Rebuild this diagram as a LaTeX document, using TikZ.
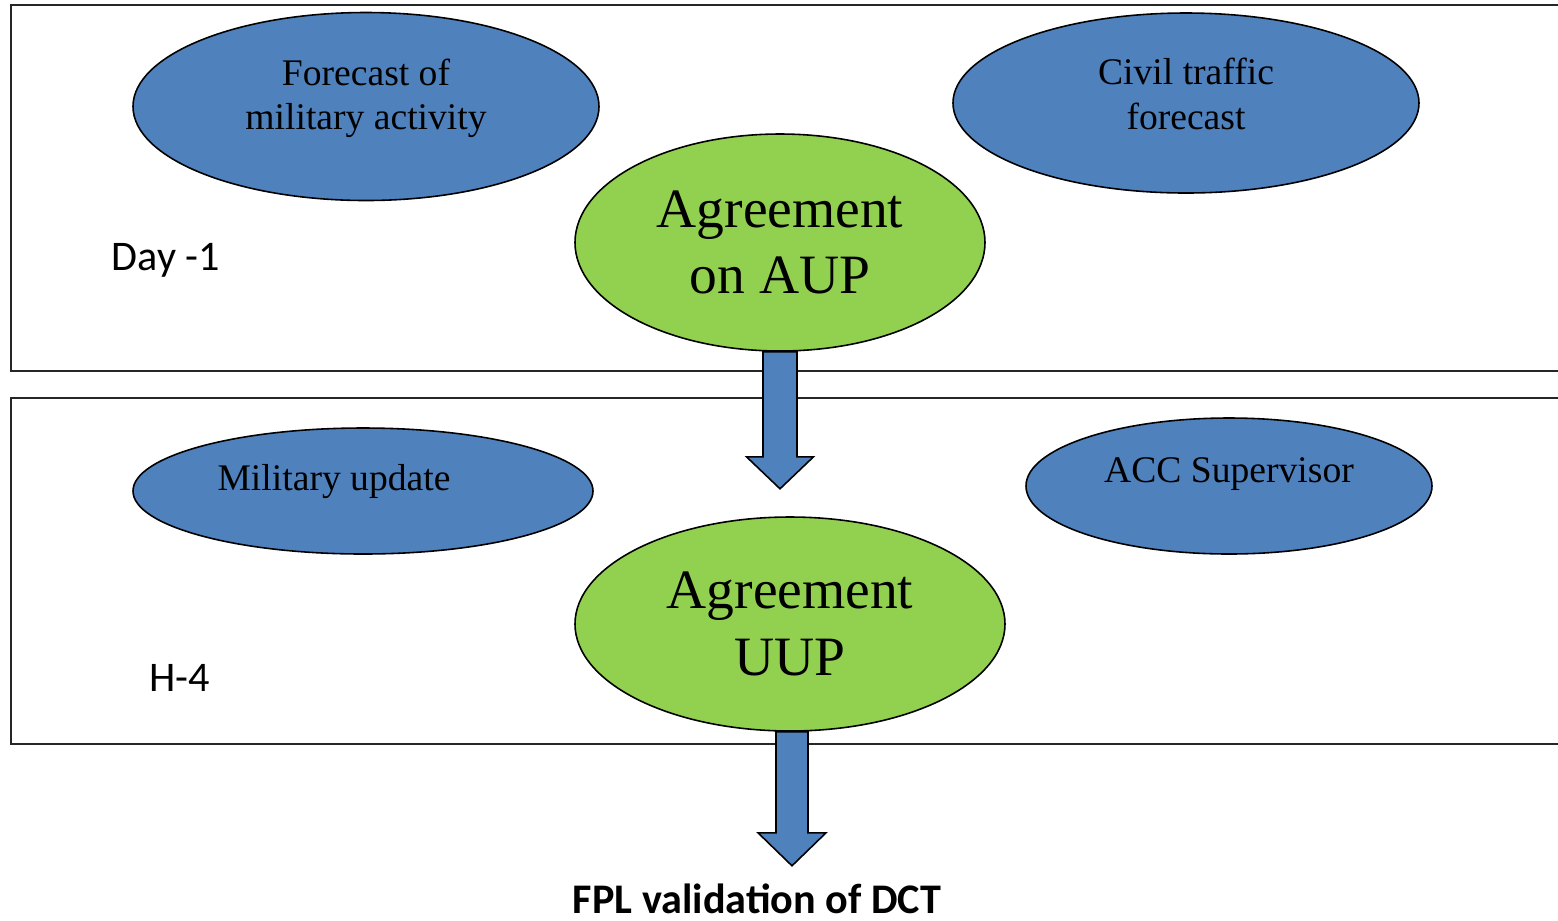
\documentclass[tikz,border=0pt]{standalone}
\usepackage{fontspec}
\setmainfont{Liberation Serif}
\newfontfamily\calibri{Carlito}
\usepackage{tikz}
\usetikzlibrary{shapes}
\usetikzlibrary{positioning}
\usetikzlibrary{calc}
\definecolor{ellblue}{HTML}{4F81BD}
\definecolor{ellgreen}{HTML}{92D050}
\tikzstyle{panel}=[draw=black!85,line width=0.55pt]
\tikzstyle{actor}=[
        ellipse,
        draw,
        line width=0.45pt,
        fill=ellblue,
        inner sep=0pt
]
\tikzstyle{actortext}=[align=center,font=\fontsize{10.7}{12.6}\selectfont]
\tikzstyle{agree}=[ellipse,draw,line width=0.45pt,fill=ellgreen,inner sep=0pt,
align=center,font=\fontsize{15.8}{19}\selectfont]
\tikzstyle{period}=[font=\calibri\fontsize{12}{14}\selectfont]
\tikzstyle{flow}=[draw,line width=0.45pt,fill=ellblue,line join=miter]

\begin{document}
\begin{tikzpicture}
\useasboundingbox (0,0) rectangle (15.58,-9.20);
%Panels
\draw[panel] (15.58,-0.05) -| (0.11,-3.71) -- (15.58,-3.71);
\draw[panel] (15.58,-3.98) -| (0.11,-7.44) -- (15.58,-7.44);
\node[period] (day) at (1.66,-2.60) {Day -1};
\node[period] (hfour) at (1.80,-6.78) {H-4};
%Day -1
\node[actor,minimum width=4.66cm,minimum height=1.88cm,
  label={[actortext,yshift=2.3pt]center:Forecast of\\military activity}] (fmil) at (3.66,-1.065) {};
\node[actor,minimum width=4.66cm,minimum height=1.80cm,
  label={[actortext,yshift=2.6pt]center:Civil traffic\\forecast}] (civil) at (11.86,-1.03) {};
\node[agree,minimum width=4.10cm,minimum height=2.17cm] (aup) at (7.80,-2.425) {Agreement\\on AUP};
%H-4
\node[actor,minimum width=4.60cm,minimum height=1.26cm,
  label={[actortext,yshift=2.6pt,xshift=-0.29cm]center:Military update}] (milup) at (3.63,-4.91) {};
\node[actor,minimum width=4.06cm,minimum height=1.36cm,
  label={[actortext,yshift=3.3pt]center:ACC Supervisor}] (acc) at (12.29,-4.86) {};
\node[agree,minimum width=4.30cm,minimum height=2.14cm] (uup) at (7.90,-6.24) {Agreement\\UUP};
\node[font=\calibri\bfseries\fontsize{12}{14}\selectfont,anchor=base,inner sep=0pt] (fpl) at (7.57,-9.13) {FPL validation of DCT};
\coordinate (tip1) at ($(aup.south)+(0,-1.37)$);
\coordinate (tip2) at ($(uup.south)+(0.02,-1.34)$);
%Drawing Edges
\draw[flow] ($(aup.south)+(-0.17,0)$) |- ($(tip1)+(-0.335,0.32)$) -- (tip1)
  -- ($(tip1)+(0.335,0.32)$) -| ($(aup.south)+(0.17,0)$) -- cycle;
\draw[flow] ($(uup.south)+(-0.14,0)$) |- ($(tip2)+(-0.34,0.33)$) -- (tip2)
  -- ($(tip2)+(0.34,0.33)$) -| ($(uup.south)+(0.18,0)$) -- cycle;
\end{tikzpicture}
\end{document}
